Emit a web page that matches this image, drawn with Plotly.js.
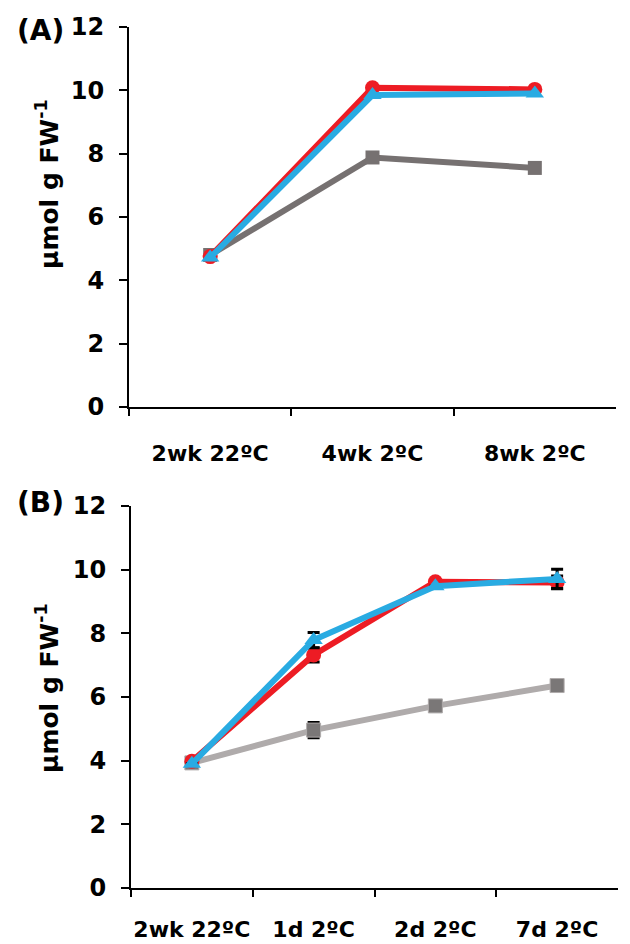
<!DOCTYPE html>
<html>
<head>
<meta charset="utf-8">
<script src="https://cdn.plot.ly/plotly-3.0.1.min.js"></script>
<style>html,body{margin:0;padding:0;background:#fff;}#chart{width:630px;height:944px;}</style>
</head>
<body>
<div id="chart"></div>
<script>
// Panel A data
const catsA = ["2wk 22ºC", "4wk 2ºC", "8wk 2ºC"];
const greyA = [4.8, 7.88, 7.55];
const redA  = [4.75, 10.08, 10.03];
const blueA = [4.72, 9.85, 9.9];

// Panel B data
const catsB = ["2wk 22ºC", "1d 2ºC", "2d 2ºC", "7d 2ºC"];
const greyB = [3.93, 4.96, 5.72, 6.36];
const redB  = [3.98, 7.32, 9.62, 9.6];
const blueB = [3.9, 7.79, 9.48, 9.71];
const greyBErr = [0, 0.24, 0, 0];
const redBErr  = [0, 0.22, 0, 0.2];
const blueBErr = [0, 0.24, 0, 0.3];

const F = "DejaVu Sans";
const RED = "#ED1C24", BLUE = "#29ABE2", GREY_A = "#767171", GREY_B_LINE = "#AFABAB", GREY_B_MK = "#7A7777";

function errCfg(arr){ return {type:"data", array:arr, visible:true, color:"#000", thickness:3, width:6}; }

const traces = [
  {x:catsA, y:greyA, xaxis:"x", yaxis:"y", mode:"lines+markers", line:{color:GREY_A, width:6},
   marker:{symbol:"square", size:14, color:GREY_A}},
  {x:catsA, y:redA, xaxis:"x", yaxis:"y", mode:"lines+markers", line:{color:RED, width:6},
   marker:{symbol:"circle", size:15, color:RED}},
  {x:catsA, y:blueA, xaxis:"x", yaxis:"y", mode:"lines+markers", line:{color:BLUE, width:6},
   marker:{symbol:"triangle-up", size:16, color:BLUE}},

  {x:catsB, y:greyB, xaxis:"x2", yaxis:"y2", mode:"lines+markers", line:{color:GREY_B_LINE, width:6},
   marker:{symbol:"square", size:14, color:GREY_B_MK, line:{color:GREY_B_LINE, width:1}}, error_y:errCfg(greyBErr)},
  {x:catsB, y:redB, xaxis:"x2", yaxis:"y2", mode:"lines+markers", line:{color:RED, width:6},
   marker:{symbol:"circle", size:15, color:RED}, error_y:errCfg(redBErr)},
  {x:catsB, y:blueB, xaxis:"x2", yaxis:"y2", mode:"lines+markers", line:{color:BLUE, width:6},
   marker:{symbol:"triangle-up", size:16, color:BLUE}, error_y:errCfg(blueBErr)}
];

const W = 630, H = 944;
function xax(x0, x1, anchor, n, standoff){
  return {domain:[x0/W, x1/W], anchor:anchor, type:"category", range:[-0.5, n-0.5],
    tickson:"boundaries", ticks:"outside", ticklen:7, tickwidth:2, tickcolor:"#000", tickangle:0,
    showline:true, linecolor:"#000", linewidth:2, showgrid:false, zeroline:false,
    tickfont:{family:F, size:22, color:"#000", weight:"bold"}, ticklabelstandoff:standoff, fixedrange:true};
}
function yax(top, bottom, anchor){
  return {domain:[1-bottom/H, 1-top/H], anchor:anchor, range:[0,12], dtick:2, tick0:0,
    ticks:"outside", ticklen:8, tickwidth:2, tickcolor:"#000",
    showline:true, linecolor:"#000", linewidth:2, showgrid:false, zeroline:false,
    tickfont:{family:F, size:24, color:"#000", weight:"bold"}, ticklabelstandoff:10, fixedrange:true};
}

const layout = {
  width:W, height:H, margin:{l:0, r:0, t:0, b:0}, showlegend:false,
  paper_bgcolor:"#fff", plot_bgcolor:"#fff",
  xaxis: xax(129, 616, "y", 3, 26),
  yaxis: yax(27, 407, "x"),
  xaxis2: xax(131, 618, "y2", 4, 21),
  yaxis2: yax(506, 888, "x2"),
  annotations:[
    {text:"<b>(A)</b>", xref:"paper", yref:"paper", x:40/W, y:1-30/H, xanchor:"center", yanchor:"middle",
     showarrow:false, font:{family:F, size:28, color:"#000"}},
    {text:"<b>(B)</b>", xref:"paper", yref:"paper", x:40/W, y:1-502/H, xanchor:"center", yanchor:"middle",
     showarrow:false, font:{family:F, size:28, color:"#000"}},
    {text:"<b>μmol g FW<sup>-1</sup></b>", xref:"paper", yref:"paper", x:47/W, y:1-184/H, xanchor:"center", yanchor:"middle",
     textangle:-90, showarrow:false, font:{family:F, size:25, color:"#000"}},
    {text:"<b>μmol g FW<sup>-1</sup></b>", xref:"paper", yref:"paper", x:47/W, y:1-688/H, xanchor:"center", yanchor:"middle",
     textangle:-90, showarrow:false, font:{family:F, size:25, color:"#000"}}
  ]
};

Plotly.newPlot("chart", traces, layout, {displayModeBar:false, staticPlot:true});
</script>
</body>
</html>
